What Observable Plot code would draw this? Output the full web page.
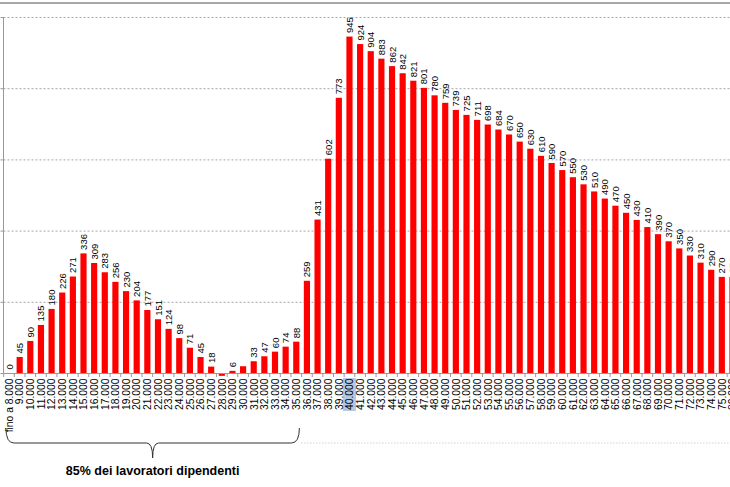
<!DOCTYPE html>
<html><head><meta charset="utf-8">
<script src="https://cdn.jsdelivr.net/npm/d3@7"></script>
<script src="https://cdn.jsdelivr.net/npm/@observablehq/plot@0.6"></script>
<style>
html,body{margin:0;padding:0;background:#fff;overflow:hidden;width:730px;height:487px;}
#wrap{position:relative;width:730px;height:487px;overflow:hidden;}
#topline{position:absolute;left:0;top:2px;width:730px;height:2px;background:#a8a8a8;}
#chart{position:absolute;left:0;top:0;width:738px;}
#chart svg{max-width:none !important;}
</style></head><body>
<div id="wrap"><div id="chart"></div><div id="topline"></div></div>
<script>
const categories = ["fino a 8.000","9.000","10.000","11.000","12.000","13.000","14.000","15.000","16.000","17.000",
"18.000","19.000","20.000","21.000","22.000","23.000","24.000","25.000","26.000","27.000",
"28.000","29.000","30.000","31.000","32.000","33.000","34.000","35.000","36.000","37.000",
"38.000","39.000","40.000","41.000","42.000","43.000","44.000","45.000","46.000","47.000",
"48.000","49.000","50.000","51.000","52.000","53.000","54.000","55.000","56.000","57.000",
"58.000","59.000","60.000","61.000","62.000","63.000","64.000","65.000","66.000","67.000",
"68.000","69.000","70.000","71.000","72.000","73.000","74.000","75.000","80.000"];
const values = [0,45,90,135,180,226,271,336,309,283,
256,230,204,177,151,124,98,71,45,18,
-8,6,19,33,47,60,74,88,259,431,
602,773,945,924,904,883,862,842,821,801,
780,759,739,725,711,698,684,670,650,630,
610,590,570,550,530,510,490,470,450,430,
410,390,370,350,330,310,290,270,270];
const valueLabels = ["0","45","90","135","180","226","271","336","309","283",
"256","230","204","177","151","124","98","71","45","18",
"","6","","33","47","60","74","88","259","431",
"602","773","945","924","904","883","862","842","821","801",
"780","759","739","725","711","698","684","670","650","630",
"610","590","570","550","530","510","490","470","450","430",
"410","390","370","350","330","310","290","270","270"];
const yTicks = [0,200,400,600,800,1000];
const gridTicks = [200,400,600,800,1000];
const braceFrom = "fino a 8.000";
const braceTo = "35.000";
const braceText = "85% dei lavoratori dipendenti";
const highlighted = "40.000";

const data = categories.map((c,i)=>({cat:c, value:values[i], label:valueLabels[i]}));
const labelled = data.filter(d => d.label !== "");
const font = "'Liberation Sans', Arial, sans-serif";

const plot = Plot.plot({
  width: 738, height: 487,
  marginLeft: 3.5, marginRight: 0, marginTop: 17, marginBottom: 114,
  style: {fontFamily: font, background: "transparent", overflow: "visible", color: "#000", maxWidth: "none"},
  x: {domain: categories, paddingInner: 0.42, paddingOuter: 0.23, axis: null},
  y: {domain: [0, 1000], axis: null},
  marks: [
    Plot.gridY(gridTicks, {stroke: "#a6a6a6", strokeOpacity: 1, strokeDasharray: "2,2"}),
    Plot.axisY(yTicks, {tickSize: 3, tickFormat: () => "", stroke: "#999", label: null}),
    Plot.barY(data, {x: "cat", y: "value", fill: "#ff0000"}),
    Plot.ruleY([0], {stroke: "#999"}),
    Plot.text(labelled, {x: "cat", y: "value", text: "label", rotate: -90, textAnchor: "start",
      lineAnchor: "middle", dy: -4, fontSize: 9.5, fill: "#000"}),
    Plot.axisX({tickRotate: -90, tickSize: 0, tickPadding: 5, fontSize: 10.3, fill: "#000", label: null})
  ]
});
document.getElementById("chart").appendChild(plot);

const svg = d3.select(plot);
const xs = plot.scale("x");
const ys = plot.scale("y");
const bw = xs.bandwidth, step = xs.step, gap = step - bw;
const y0 = ys.apply(0), yTop = ys.apply(1000);

// highlight behind 40.000 label (inserted behind everything)
const hx = xs.apply(highlighted) + bw / 2;
const styleEl = plot.querySelector("style");
const hl = document.createElementNS("http://www.w3.org/2000/svg", "rect");
hl.setAttribute("x", hx - 6.5); hl.setAttribute("y", y0 + 5);
hl.setAttribute("width", 13); hl.setAttribute("height", 33);
hl.setAttribute("fill", "#b3c9e2");
if (styleEl && styleEl.nextSibling) plot.insertBefore(hl, styleEl.nextSibling); else plot.insertBefore(hl, plot.firstChild);

// y axis line
svg.append("line").attr("x1", 3.5).attr("x2", 3.5).attr("y1", yTop).attr("y2", y0)
  .attr("stroke", "#999");

// category boundary ticks
svg.append("g").selectAll("line").data(categories).join("line")
  .attr("x1", d => xs.apply(d) - gap / 2).attr("x2", d => xs.apply(d) - gap / 2)
  .attr("y1", y0).attr("y2", y0 + 4).attr("stroke", "#999");

// brace
const xL = xs.apply(braceFrom), xR = xs.apply(braceTo) + bw, xM = (xL + xR) / 2;
const yb = y0 + 70, yEnd = y0 + 55, yTip = y0 + 85;
const path = `M${xL},${yEnd} Q${xL},${yb} ${xL + 8},${yb} L${xM - 6},${yb} Q${xM},${yb} ${xM},${yTip} Q${xM},${yb} ${xM + 6},${yb} L${xR - 8},${yb} Q${xR},${yb} ${xR},${yEnd}`;
svg.append("path").attr("d", path).attr("fill", "none").attr("stroke", "#333").attr("stroke-width", 1);
svg.append("line").attr("x1", xR + 2).attr("x2", 738).attr("y1", yb).attr("y2", yb)
  .attr("stroke", "#bbb").attr("stroke-dasharray", "1,2");
svg.append("text").attr("x", xM).attr("y", yTip + 17).attr("text-anchor", "middle")
  .attr("font-family", font).attr("font-weight", "bold").attr("font-size", 12.5)
  .attr("fill", "#000").text(braceText);
</script>
</body></html>
